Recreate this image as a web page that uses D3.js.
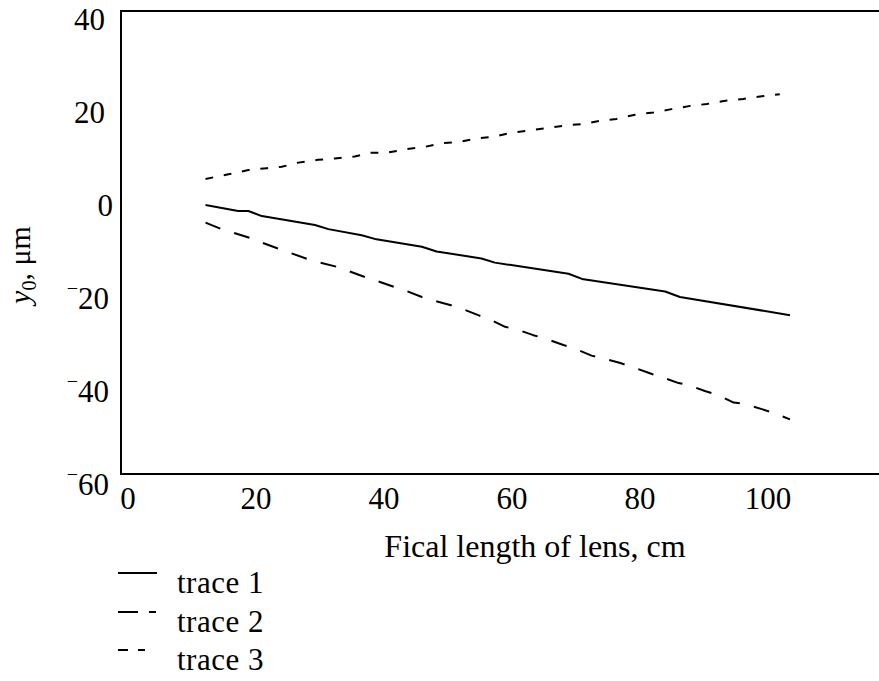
<!DOCTYPE html>
<html>
<head>
<meta charset="utf-8">
<script src="https://cdn.jsdelivr.net/npm/d3@7"></script>
<style>
  html, body { margin: 0; padding: 0; background: #fff; }
  svg { display: block; }
  svg text { font-family: "Liberation Serif", "Times New Roman", Times, serif; fill: #000; }
</style>
</head>
<body>
<svg id="chart" width="879" height="681"></svg>
<script>
// ---- data ----
const xTicks = [0, 20, 40, 60, 80, 100];
const yTicks = [40, 20, 0, -20, -40, -60];
const xLabel = "Fical length of lens, cm";
const seriesNames = ["trace 1", "trace 2", "trace 3"];

const trace1X = [12.2, 17.3, 18.9, 21.0, 29.3, 31.4, 36.6, 38.9, 46.0, 48.3, 55.3, 57.4, 68.9, 71.0, 84.0, 86.3, 103.5];
const trace1Y = [0.0, -1.3, -1.3, -2.4, -4.3, -5.2, -6.5, -7.4, -9.0, -10.0, -11.5, -12.4, -14.8, -15.9, -18.6, -19.8, -23.7];

const trace2X = [12.2, 14.7, 16.8, 19.4, 21.0, 23.8, 25.4, 28.3, 30.1, 32.7, 34.5, 37.1, 38.9, 41.8, 43.4, 46.0, 47.9, 50.4, 52.2, 54.8, 56.6, 59.0, 61.1, 63.4, 65.2, 68.1, 69.7, 72.5, 74.3, 77.0, 78.8, 81.6, 83.2, 86.1, 87.6, 90.2, 92.3, 94.7, 96.5, 99.1, 100.9, 103.5];
const trace2Y = [-3.8, -5.2, -6.1, -7.2, -8.1, -9.5, -10.3, -11.7, -12.4, -13.3, -14.2, -15.5, -16.3, -17.7, -18.4, -19.8, -20.6, -21.5, -22.3, -23.7, -24.6, -26.2, -26.9, -28.0, -28.7, -30.1, -30.8, -32.4, -33.0, -34.0, -34.8, -36.2, -36.9, -38.3, -38.7, -40.0, -40.9, -42.5, -42.8, -43.9, -44.7, -46.1];

const trace3X = [12.2, 15.8, 18.9, 21.8, 24.1, 26.7, 29.8, 32.4, 35.5, 37.9, 40.8, 43.6, 46.5, 49.1, 51.7, 54.6, 57.4, 59.8, 62.6, 65.5, 68.4, 71.2, 73.8, 76.4, 79.3, 82.2, 85.0, 87.9, 90.5, 93.4, 96.2, 98.8, 101.9];
const trace3Y = [5.6, 6.6, 7.5, 7.9, 8.2, 9.1, 9.7, 10.0, 10.4, 11.2, 11.3, 12.0, 12.5, 13.3, 13.5, 14.3, 14.7, 15.5, 16.0, 16.5, 17.1, 17.4, 18.1, 18.5, 19.4, 19.9, 20.6, 21.3, 21.7, 22.4, 22.8, 23.3, 23.8];

(function () {
const FONT = '"Liberation Serif", "Times New Roman", Times, serif';
// ---- layout ----
const svg = d3.select("#chart");
const mLeft = 121, mRight = 879, mTop = 11, mBottom = 474;
const x = d3.scaleLinear().domain([-1, 117.4]).range([mLeft, mRight]);
const y = d3.scaleLinear().domain([-57.85, 41.7]).range([mBottom, mTop]);

// frame (top, left, bottom)
svg.append("path")
  .attr("d", `M${mRight},${mTop}H${mLeft}V${mBottom}H${mRight}`)
  .attr("stroke", "#000").attr("stroke-width", 2).attr("fill", "none");

// x axis labels
const xAxis = svg.append("g")
  .attr("transform", `translate(0,${mBottom})`)
  .call(d3.axisBottom(x).tickValues(xTicks).tickSize(0).tickPadding(13).tickFormat(d3.format("d")))
  .attr("font-family", FONT).attr("font-size", 31);
xAxis.select(".domain").remove();
xAxis.selectAll("text").attr("fill", "#000");

// y axis labels
const yAxis = svg.append("g")
  .attr("transform", `translate(${mLeft},0)`)
  .call(d3.axisLeft(y).tickValues(yTicks).tickSize(0))
  .attr("font-family", FONT).attr("font-size", 31);
yAxis.select(".domain").remove();
yAxis.selectAll(".tick text").each(function (d) {
  const t = d3.select(this);
  t.text(null)
   .attr("dy", null)
   .attr("y", 11)
   .attr("x", d > 0 ? -16 : (d === 0 ? -8 : -12))
   .attr("text-anchor", "end")
   .attr("fill", "#000");
  if (d < 0) {
    t.append("tspan").text("\u2212").attr("font-size", 20).attr("dy", -14);
    t.append("tspan").text(String(Math.abs(d))).attr("dy", 14);
  } else {
    t.text(String(d));
  }
});

// axis titles
svg.append("text")
  .attr("x", 535).attr("y", 557)
  .attr("text-anchor", "middle")
  .attr("font-family", FONT)
  .attr("font-size", 32)
  .text(xLabel);

const yl = svg.append("text")
  .attr("transform", "translate(30,265) rotate(-90)")
  .attr("text-anchor", "middle")
  .attr("font-family", FONT)
  .attr("font-size", 30);
yl.append("tspan").attr("font-style", "italic").text("y");
yl.append("tspan").attr("dy", 6).attr("font-size", 20).text("0");
yl.append("tspan").attr("dy", -6).text(", \u03bcm");

// lines
const line = d3.line().x(d => x(d[0])).y(d => y(d[1]));
const traces = [
  { xs: trace1X, ys: trace1Y, dash: null },
  { xs: trace2X, ys: trace2Y, dash: "16,14.5" },
  { xs: trace3X, ys: trace3Y, dash: "7.8,10.8" }
];
traces.forEach(t => {
  const pts = t.xs.map((v, i) => [v, t.ys[i]]);
  svg.append("path")
    .attr("d", line(pts))
    .attr("fill", "none")
    .attr("stroke", "#000")
    .attr("stroke-width", 2)
    .attr("stroke-linejoin", "round")
    .attr("stroke-dasharray", t.dash);
});

// legend
const legendDash = [null, "20,11,7,20", "10,10,7,20"];
const legendBase = [593, 632, 670];
seriesNames.forEach((name, i) => {
  svg.append("line")
    .attr("x1", 118).attr("x2", 157)
    .attr("y1", legendBase[i] - 20).attr("y2", legendBase[i] - 20)
    .attr("stroke", "#000").attr("stroke-width", 2)
    .attr("stroke-dasharray", legendDash[i]);
  svg.append("text")
    .attr("x", 177).attr("y", legendBase[i])
    .attr("font-family", FONT)
    .attr("font-size", 31)
    .attr("letter-spacing", 0.5)
    .text(name);
});
})();
</script>
</body>
</html>
